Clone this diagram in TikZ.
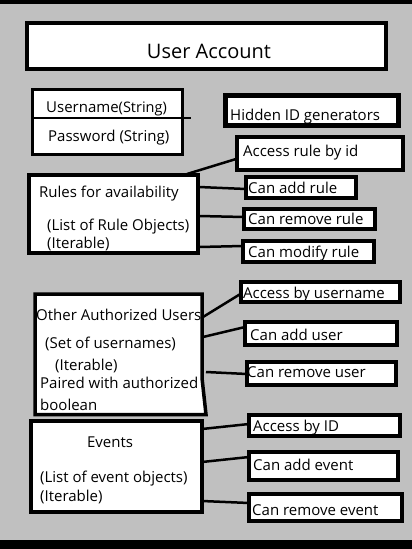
\documentclass[tikz,border=0pt]{standalone}
\usepackage{fontspec}
\setmainfont{Open Sans}
\definecolor{bggray}{HTML}{C0C0C0}
\tikzset{
  box/.style={draw=black, fill=white, line width=3.5pt, inner sep=0pt, rectangle},
  lbl/.style={anchor=base west, inner sep=0pt, font=\fontsize{15}{18}\selectfont},
  conn/.style={draw=black, line width=2.5pt},
}
\newcommand{\mkbox}[5]{% name, x1, y1, x2, y2 (stroke centre line)
  \node[box, minimum width={(#4-#2)*1pt}, minimum height={(#5-#3)*1pt}] (#1) at ({(#2+#4)/2},{(#3+#5)/2}) {};}
\begin{document}
\begin{tikzpicture}[x=1pt,y=-1pt]
\useasboundingbox (0,0) rectangle (412,549);
\fill[bggray] (0,0) rectangle (412,549);
\fill[black] (0,0) rectangle (412,4);
\fill[black] (0,540) rectangle (412,549);

% title
\node[box, line width=4pt, minimum width=359pt, minimum height=46pt] (title) at (206.5,46) {};
\node[inner sep=0pt, font=\fontsize{20}{24}\selectfont] (titletext) at (209,51) {User Account};

% username / password
\node[box, line width=3pt, minimum width=150pt, minimum height=65pt] (up) at (107.5,122) {};
\coordinate (divL) at (31,118);
\coordinate (divR) at (191,118);
\draw[line width=2.5pt] (divL) -- (divR);
\node[lbl] (uname) at (46,112) {Username{\fontsize{14.5}{16}\selectfont(String)}};
\node[lbl] (pword) at (48,141) {Password (String)};

% hidden id
\node[box, line width=5pt, minimum width=173pt, minimum height=30pt] (hidden) at (312,110.5) {};
\node[lbl] (hiddent) at (230,120) {Hidden ID generators};

% rules section
\mkbox{rules}{29}{175}{198}{253}
\node[lbl] (rulest1) at (39,197) {Rules for availability};
\node[lbl] (rulest2) at (47,230) {(List of Rule Objects)};
\node[lbl] (rulest3) at (47,248) {(Iterable)};

\mkbox{accrule}{237}{137}{403}{170}
\node[lbl] (accrulet) at (243,156) {Access rule by id};
\mkbox{addrule}{246}{177}{356}{198}
\node[lbl] (addrulet) at (248,193) {Can add rule};
\mkbox{remrule}{244}{209}{375}{229}
\node[lbl] (remrulet) at (248,224) {Can remove rule};
\mkbox{modrule}{243}{241}{374}{262}
\node[lbl] (modrulet) at (248,257) {Can modify rule};

\coordinate (r0a) at (187,174);
\coordinate (r0b) at (236,159);
\coordinate (r1a) at (199,187);
\coordinate (r1b) at (246,189);
\coordinate (r2a) at (199,216);
\coordinate (r2b) at (244,217);
\coordinate (r3a) at (199,247);
\coordinate (r3b) at (243,246);
\draw[conn] (r0a) -- (r0b);
\draw[conn] (r1a) -- (r1b);
\draw[conn] (r2a) -- (r2b);
\draw[conn] (r3a) -- (r3b);

% other authorized users
\coordinate (o1) at (35,294);
\coordinate (o2) at (202,294);
\coordinate (o3) at (202,378);
\coordinate (o4) at (206,414.5);
\coordinate (o5) at (35,414.5);
\filldraw[fill=white, draw=black, line width=3.5pt] (o1) -- (o2) -- (o3) -- (o4) -- (o5) -- cycle;
\node[lbl] (othert1) at (36,320) {Other Authorized Users};
\node[lbl] (othert2) at (45,348) {(Set of usernames)};
\node[lbl] (othert3) at (55,370) {(Iterable)};
\node[lbl] (othert4) at (40,388) {Paired with authorized};
\node[lbl] (othert5) at (40,410) {boolean};

\mkbox{accuser}{241}{282}{400}{302}
\node[lbl] (accusert) at (243,298) {Access by username};
\mkbox{adduser}{245}{322}{397}{345}
\node[lbl] (addusert) at (250,340) {Can add user};
\mkbox{remuser}{247}{362}{396}{385}
\node[lbl] (remusert) at (247,377) {Can remove user};

\coordinate (u1a) at (203,317);
\coordinate (u1b) at (242,293);
\coordinate (u2a) at (203,337);
\coordinate (u2b) at (245,327);
\coordinate (u3a) at (206,372);
\coordinate (u3b) at (247,374);
\draw[conn] (u1a) -- (u1b);
\draw[conn] (u2a) -- (u2b);
\draw[conn] (u3a) -- (u3b);

% events
\mkbox{events}{31}{421}{202}{512}
\node[inner sep=0pt, font=\fontsize{15}{18}\selectfont] (eventst1) at (110,442) {Events};
\node[lbl] (eventst2) at (40,482) {(List of event objects)};
\node[lbl] (eventst3) at (40,501) {(Iterable)};

\mkbox{accev}{249}{415}{400}{436}
\node[lbl] (accevt) at (253,431) {Access by ID};
\mkbox{addev}{249}{452}{398}{480}
\node[lbl] (addevt) at (253,470) {Can add event};
\mkbox{remev}{249}{494}{402}{521}
\node[lbl] (remevt) at (252,515) {Can remove event};

\coordinate (e1a) at (202,429);
\coordinate (e1b) at (249,424);
\coordinate (e2a) at (202,462);
\coordinate (e2b) at (249,457);
\coordinate (e3a) at (202,501);
\coordinate (e3b) at (249,503);
\draw[conn] (e1a) -- (e1b);
\draw[conn] (e2a) -- (e2b);
\draw[conn] (e3a) -- (e3b);
\end{tikzpicture}
\end{document}
